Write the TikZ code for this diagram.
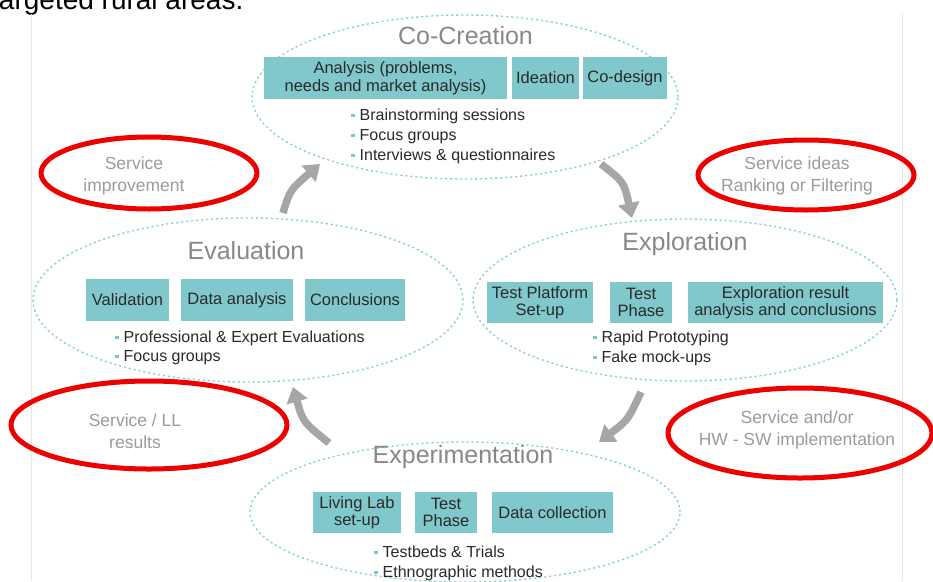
\documentclass[tikz,border=0pt]{standalone}
\usepackage{fontspec}
\setmainfont{Liberation Sans}
\usetikzlibrary{shapes.geometric,arrows.meta}
\definecolor{boxc}{HTML}{80C8CB}
\definecolor{dashc}{HTML}{8FD0D6}
\definecolor{bulletc}{HTML}{7CC5CA}
\definecolor{titlec}{HTML}{888888}
\definecolor{notec}{HTML}{9B9B9B}
\definecolor{arrowc}{HTML}{A6A6A6}
\definecolor{ringc}{HTML}{EE0000}
\definecolor{framec}{HTML}{E6E6E6}
\definecolor{textc}{HTML}{2A2A2A}
\newcommand\bsq{{\color{bulletc}\rule[3pt]{3.5pt}{3.5pt}}\hspace{5pt}}
\begin{document}
\begin{tikzpicture}[x=1pt,y=-1pt,
  phase/.style={ellipse, draw=dashc, line width=1.4pt, dash pattern=on 2.2pt off 2.8pt, inner sep=0},
  ring/.style={ellipse, draw=ringc, line width=5pt, inner sep=0},
  title/.style={anchor=base, inner sep=0, text=titlec, font=\fontsize{25}{28}\selectfont},
  tbox/.style={fill=boxc, inner sep=0, align=center, text=textc, font=\fontsize{16.5}{17.5}\selectfont},
  item/.style={anchor=base west, inner sep=0, text=textc, font=\fontsize{16}{19}\selectfont},
  note/.style={align=center, inner sep=0, text=notec, font=\fontsize{17.5}{21.5}\selectfont},
  flow/.style={draw=arrowc, line width=7.5pt, -{Triangle[length=15pt,width=21pt]}},
]
\useasboundingbox (0,0) rectangle (933,581);
\clip (0,0) rectangle (933,581);
\fill[white] (0,0) rectangle (933,581);

% page text above the figure and the figure frame
\node[anchor=base west, inner sep=0, font=\fontsize{28}{30}\selectfont] (caption) at (-9,9) {targeted rural areas.};
\draw[framec, line width=1pt] (31,14) -- (31,581);
\draw[framec, line width=1pt] (902,14) -- (902,581);

% the four phases
\node[phase, minimum width=426pt, minimum height=164pt] (cocre) at (465,97) {};
\node[phase, minimum width=424pt, minimum height=162pt] (explo) at (685,300) {};
\node[phase, minimum width=430pt, minimum height=164pt] (evalu) at (248,300) {};
\node[phase, minimum width=430pt, minimum height=140pt] (exper) at (465,512) {};

% Co-Creation
\node[title] (t-cocre) at (465.5,44) {Co-Creation};
\node[tbox, minimum width=243pt, minimum height=42pt] (b-analysis) at (385.5,78) {Analysis (problems,\\needs and market analysis)};
\node[tbox, minimum width=67pt, minimum height=42pt] (b-ideation) at (545.5,78) {Ideation};
\node[tbox, minimum width=84pt, minimum height=42pt] (b-codesign) at (625,78) {Co-design};
\node[item] (i-brain) at (351,120) {\bsq Brainstorming sessions};
\node[item] (i-focus1) at (351,140) {\bsq Focus groups};
\node[item] (i-interv) at (351,160) {\bsq Interviews \& questionnaires};

% Exploration
\node[title] (t-explo) at (685,250) {Exploration};
\node[tbox, minimum width=106pt, minimum height=41pt] (b-platform) at (540,302.5) {Test Platform\\Set-up};
\node[tbox, minimum width=62pt, minimum height=41pt] (b-phase1) at (641,302.5) {Test\\Phase};
\node[tbox, minimum width=195pt, minimum height=41pt] (b-result) at (785.5,302.5) {Exploration result\\analysis and conclusions};
\node[item] (i-rapid) at (593,342) {\bsq Rapid Prototyping};
\node[item] (i-fake) at (593,362) {\bsq Fake mock-ups};

% Evaluation
\node[title] (t-evalu) at (246,259) {Evaluation};
\node[tbox, minimum width=83pt, minimum height=42pt] (b-valid) at (127.5,300) {Validation};
\node[tbox, minimum width=112pt, minimum height=42pt] (b-data) at (237,300) {Data analysis};
\node[tbox, minimum width=100pt, minimum height=42pt] (b-concl) at (355,300) {Conclusions};
\node[item] (i-prof) at (115,342) {\bsq Professional \& Expert Evaluations};
\node[item] (i-focus2) at (115,361) {\bsq Focus groups};

% Experimentation
\node[title] (t-exper) at (463,463) {Experimentation};
\node[tbox, minimum width=88pt, minimum height=41pt] (b-living) at (357,512.5) {Living Lab\\set-up};
\node[tbox, minimum width=62pt, minimum height=41pt] (b-phase2) at (446,512.5) {Test\\Phase};
\node[tbox, minimum width=121pt, minimum height=41pt] (b-collect) at (552.5,512.5) {Data collection};
\node[item] (i-test) at (374,557) {\bsq Testbeds \& Trials};
\node[item] (i-ethno) at (374,577) {\bsq Ethnographic methods};

% highlighted outcomes
\node[ring, minimum width=216pt, minimum height=72pt] (r-improve) at (149,173) {};
\node[note] (n-improve) at (134,176) {Service\\improvement};
\node[ring, minimum width=216pt, minimum height=70pt] (r-ideas) at (806,175) {};
\node[note] (n-ideas) at (797,176) {Service ideas\\Ranking or Filtering};
\node[ring, minimum width=276pt, minimum height=88pt] (r-results) at (149,425) {};
\node[note] (n-results) at (135,431) {Service / LL\\results};
\node[ring, minimum width=264pt, minimum height=90pt] (r-impl) at (800,433) {};
\node[note] (n-impl) at (797,430) {Service and/or\\HW - SW implementation};

% cycle arrows between the phases
\coordinate (a1s) at (283,213);
\coordinate (a1e) at (320,164);
\coordinate (a2s) at (601,164);
\coordinate (a2e) at (632,218);
\coordinate (a3s) at (641,392);
\coordinate (a3e) at (599,442);
\coordinate (a4s) at (329,443);
\coordinate (a4e) at (293,387);
\draw[flow] (a1s) .. controls (290,190) .. (a1e);
\draw[flow] (a2s) .. controls (624,182) .. (a2e);
\draw[flow] (a3s) .. controls (628,420) .. (a3e);
\draw[flow] (a4s) .. controls (303,422) .. (a4e);
\end{tikzpicture}
\end{document}
